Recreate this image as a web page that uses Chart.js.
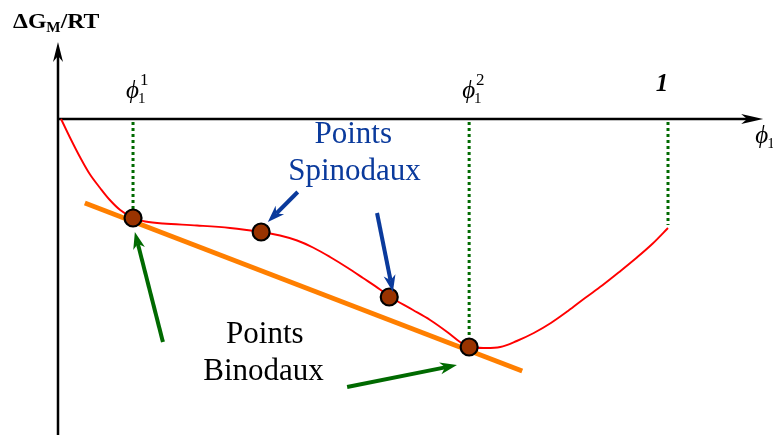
<!DOCTYPE html>
<html><head><meta charset="utf-8">
<script src="https://cdn.jsdelivr.net/npm/chart.js@4.4.0/dist/chart.umd.min.js"></script>
<style>html,body{margin:0;padding:0;background:#fff;overflow:hidden}canvas{display:block}</style>
</head><body>
<canvas id="c" width="773" height="435"></canvas>
<script>
// ---- data (phi = volume fraction, G = ΔG_M/RT, arbitrary units) ----
const curvePhi = [0.005, 0.020, 0.036, 0.052, 0.069, 0.085, 0.102, 0.123, 0.143, 0.172, 0.228, 0.282, 0.333, 0.364, 0.392, 0.418, 0.446, 0.474, 0.500, 0.528, 0.543, 0.582, 0.610, 0.638, 0.659, 0.674, 0.697, 0.725, 0.752, 0.780, 0.808, 0.836, 0.864, 0.892, 0.920, 0.948, 0.975, 1.000];
const curveG   = [0.000, -0.19, -0.38, -0.55, -0.69, -0.81, -0.91, -0.99, -1.025, -1.045, -1.065, -1.09, -1.13, -1.165, -1.215, -1.285, -1.38, -1.485, -1.59, -1.705, -1.775, -1.91, -2.01, -2.13, -2.23, -2.275, -2.29, -2.28, -2.22, -2.14, -2.04, -1.92, -1.79, -1.665, -1.53, -1.39, -1.245, -1.09];
const pointPhi = [0.123, 0.333, 0.543, 0.674];
const pointG   = [-0.99, -1.13, -1.78, -2.28];
const tangentPhi = [0.044, 0.761];
const tangentG   = [-0.84, -2.52];
const tickPhi    = [0.123, 0.674, 1.000];
const tickLabels = ['ϕ_1^1', 'ϕ_1^2', '1'];
const guideTop   = -0.03;
const guideEnds  = [-0.99, -2.28, -1.06];
const spinArrowFrom = [[0.393, -0.73], [0.523, -0.94]];
const spinArrowTo   = [[0.344, -1.03], [0.549, -1.73]];
const binArrowFrom  = [[0.172, -2.23], [0.474, -2.68]];
const binArrowTo    = [[0.126, -1.13], [0.654, -2.46]];
const xAxisEnd = 1.156, yAxisTop = 0.77, yAxisBottom = -3.16;
const X_MIN = -0.09508, X_MAX = 1.17213, Y_MIN = -3.16, Y_MAX = 1.19;

const SERIF = '"Liberation Serif", "DejaVu Serif", serif';
const zip = (a, b) => a.map((v, i) => ({x: v, y: b[i]}));

function head(ctx, x0, y0, x1, y1, L, W, notch, color) {
  const dx = x1 - x0, dy = y1 - y0, len = Math.hypot(dx, dy);
  const ux = dx / len, uy = dy / len, nx = -uy, ny = ux;
  ctx.beginPath();
  ctx.moveTo(x1, y1);
  ctx.lineTo(x1 - L * ux + W * nx, y1 - L * uy + W * ny);
  ctx.lineTo(x1 - (L - notch) * ux, y1 - (L - notch) * uy);
  ctx.lineTo(x1 - L * ux - W * nx, y1 - L * uy - W * ny);
  ctx.closePath();
  ctx.fillStyle = color;
  ctx.fill();
}
function arrow(ctx, x0, y0, x1, y1, lw, L, W, notch, color) {
  const dx = x1 - x0, dy = y1 - y0, len = Math.hypot(dx, dy);
  const ux = dx / len, uy = dy / len;
  ctx.beginPath();
  ctx.moveTo(x0, y0);
  ctx.lineTo(x1 - (L - notch) * ux, y1 - (L - notch) * uy);
  ctx.strokeStyle = color; ctx.lineWidth = lw; ctx.lineCap = 'butt';
  ctx.stroke();
  head(ctx, x0, y0, x1, y1, L, W, notch, color);
}
function phiLabel(ctx, x, base, sub, sup, size) {
  ctx.textAlign = 'left'; ctx.textBaseline = 'alphabetic';
  ctx.font = 'italic ' + size + 'px ' + SERIF;
  ctx.fillText('ϕ', x, base);
  const w = ctx.measureText('ϕ').width;
  ctx.font = '15px ' + SERIF;
  if (sub) ctx.fillText(sub, x + w - 1, base + 5);
  ctx.font = '17px ' + SERIF;
  if (sup) ctx.fillText(sup, x + w + 1, base - 13);
}

const overlay = {
  id: 'overlay',
  beforeDatasetsDraw(chart) {
    const {ctx, scales: {x, y}} = chart;
    const X = v => x.getPixelForValue(v), Y = v => y.getPixelForValue(v);
    ctx.save();
    ctx.strokeStyle = '#000'; ctx.lineWidth = 2.5;
    ctx.beginPath();
    ctx.moveTo(X(0), Y(yAxisBottom)); ctx.lineTo(X(0), Y(yAxisTop) + 12);
    ctx.moveTo(X(0), Y(0)); ctx.lineTo(X(xAxisEnd) - 12, Y(0));
    ctx.stroke();
    head(ctx, X(0), Y(0), X(0), Y(yAxisTop), 20, 5, 6, '#000');
    head(ctx, X(0), Y(0), X(xAxisEnd), Y(0), 22, 5, 6, '#000');
    ctx.restore();
  },
  afterDatasetsDraw(chart) {
    const {ctx, scales: {x, y}} = chart;
    const X = v => x.getPixelForValue(v), Y = v => y.getPixelForValue(v);
    ctx.save();
    spinArrowFrom.forEach((f, i) => {
      const t = spinArrowTo[i];
      arrow(ctx, X(f[0]), Y(f[1]), X(t[0]), Y(t[1]), 4, 17, 6, 5, '#0a3a9c');
    });
    binArrowFrom.forEach((f, i) => {
      const t = binArrowTo[i];
      arrow(ctx, X(f[0]), Y(f[1]), X(t[0]), Y(t[1]), 4, 17, 6, 5, '#006a00');
    });
    // tick labels
    ctx.fillStyle = '#000';
    tickPhi.forEach((v, i) => {
      const lab = tickLabels[i];
      if (lab.startsWith('ϕ')) {
        const m = lab.match(/ϕ_(\w)\^(\w)/);
        phiLabel(ctx, X(v) - 7, Y(0.21), m[1], m[2], 25);
      } else {
        ctx.font = 'italic bold 25px ' + SERIF;
        ctx.textAlign = 'center'; ctx.textBaseline = 'alphabetic';
        ctx.fillText(lab, X(v) - 6, Y(0.28));
      }
    });
    // axis titles
    phiLabel(ctx, X(1.143), Y(-0.24), '1', null, 25);
    ctx.save();
    const tx0 = X(-0.0738), ty = Y(0.91);
    ctx.translate(tx0, ty);
    ctx.scale(1.08, 1);
    ctx.textAlign = 'left';
    let tx = 0;
    ctx.font = 'bold 22px ' + SERIF;
    ctx.fillText('ΔG', tx, 0);
    tx += ctx.measureText('ΔG').width;
    ctx.font = 'bold 14px ' + SERIF;
    ctx.fillText('M', tx, 4);
    tx += ctx.measureText('M').width;
    ctx.font = 'bold 22px ' + SERIF;
    ctx.fillText('/RT', tx, 0);
    ctx.restore();
    // annotations
    ctx.textAlign = 'center';
    ctx.font = '31px ' + SERIF;
    ctx.fillStyle = '#0a3a9c';
    ctx.fillText('Points', X(0.484), Y(-0.24));
    ctx.fillText('Spinodaux', X(0.486), Y(-0.61));
    ctx.fillStyle = '#000';
    ctx.fillText('Points', X(0.339), Y(-2.24));
    ctx.fillText('Binodaux', X(0.337), Y(-2.61));
    ctx.restore();
  }
};

const guideSets = tickPhi.map((v, i) => ({
  data: [{x: v, y: guideTop}, {x: v, y: guideEnds[i]}],
  showLine: true, borderColor: '#006a00', borderWidth: 3, borderDash: [3, 3],
  pointRadius: 0, order: 4
}));

new Chart(document.getElementById('c'), {
  type: 'scatter',
  data: {
    datasets: [
      {data: zip(pointPhi, pointG), pointRadius: 8.5, pointBackgroundColor: '#993300',
       pointBorderColor: '#000', pointBorderWidth: 2.2, showLine: false, order: 0},
      {data: zip(tangentPhi, tangentG), showLine: true, borderColor: '#ff7f00', borderWidth: 5,
       pointRadius: 0, order: 1},
      {data: zip(curvePhi, curveG), showLine: true, borderColor: '#ff0000', borderWidth: 1.9,
       tension: 0.35, pointRadius: 0, order: 2},
      ...guideSets
    ]
  },
  options: {
    responsive: false, animation: false, events: [],
    layout: {padding: 0, autoPadding: false},
    plugins: {legend: {display: false}, tooltip: {enabled: false}},
    scales: {
      x: {type: 'linear', min: X_MIN, max: X_MAX, display: false},
      y: {type: 'linear', min: Y_MIN, max: Y_MAX, display: false}
    }
  },
  plugins: [overlay]
});
</script>
</body></html>
